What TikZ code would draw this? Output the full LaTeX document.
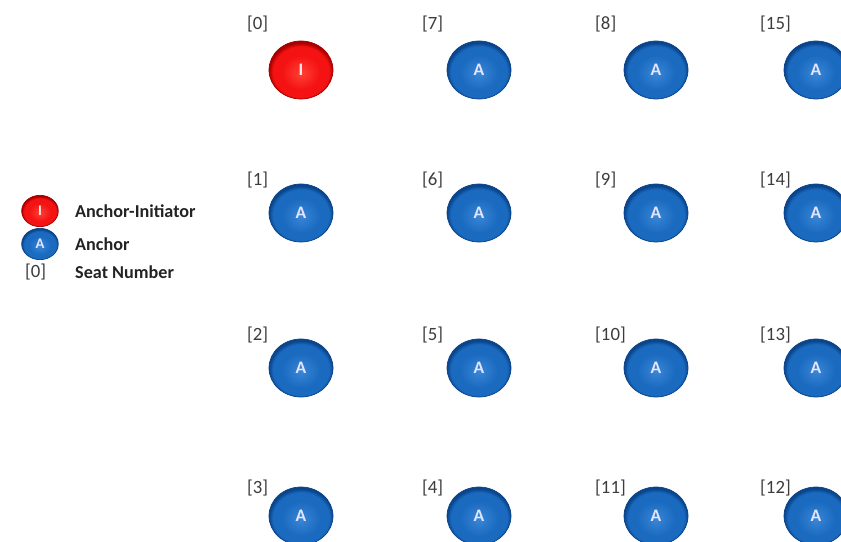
\documentclass[tikz,border=0pt]{standalone}
\usepackage{fontspec}
\setmainfont{Carlito}
\usepackage{tikz}
\usetikzlibrary{shapes.geometric}

\definecolor{anchorblue}{RGB}{26,106,192}
\definecolor{anchorlight}{RGB}{56,134,214}
\definecolor{anchorrim}{RGB}{10,68,138}
\definecolor{initred}{RGB}{244,18,18}
\definecolor{initlight}{RGB}{255,64,54}
\definecolor{initrim}{RGB}{168,0,0}
\definecolor{seatgray}{RGB}{60,60,60}
\definecolor{keyblack}{RGB}{35,35,35}

% glossy buttons: flat body, darker rim
\pgfdeclareradialshading{blueknob}{\pgfpoint{0bp}{-3bp}}{%
  color(0bp)=(anchorlight); color(15bp)=(anchorblue); color(22bp)=(anchorblue);
  color(25bp)=(anchorrim); color(50bp)=(anchorrim)}
\pgfdeclareradialshading{redknob}{\pgfpoint{0bp}{-3bp}}{%
  color(0bp)=(initlight); color(15bp)=(initred); color(22bp)=(initred);
  color(25bp)=(initrim); color(50bp)=(initrim)}

\begin{document}
\begin{tikzpicture}[x=0.03cm,y=-0.03cm]
\useasboundingbox (0,0) rectangle (841,542);

\tikzset{blueseat/.style = {shape=ellipse,draw=anchorrim,line width=.6pt,shade,shading=blueknob,
  minimum width=1.92cm,minimum height=1.74cm,inner sep=0pt,text=white!90!blue,font=\fontsize{15}{17}\selectfont\bfseries}}
\tikzset{redseat/.style = {blueseat,draw=initrim,shading=redknob,text=white!90!red}}
\tikzset{keyseat/.style = {minimum width=1.1cm,minimum height=0.94cm,font=\fontsize{12.5}{14}\selectfont\bfseries}}
\tikzset{seatno/.style = {anchor=west,inner sep=0pt,text=seatgray,font=\fontsize{16}{19}\selectfont}}
\tikzset{keytext/.style = {anchor=west,inner sep=0pt,text=keyblack,font=\fontsize{15.5}{18}\selectfont\bfseries}}

% seats
\node[redseat] (s0) at (301,70) {I};
\node[blueseat] (s1) at (301,213) {A};
\node[blueseat] (s2) at (301,368) {A};
\node[blueseat] (s3) at (301,516) {A};

\node[blueseat] (s7) at (479,70) {A};
\node[blueseat] (s6) at (479,213) {A};
\node[blueseat] (s5) at (479,368) {A};
\node[blueseat] (s4) at (479,516) {A};

\node[blueseat] (s8) at (656,70) {A};
\node[blueseat] (s9) at (656,213) {A};
\node[blueseat] (s10) at (656,368) {A};
\node[blueseat] (s11) at (656,516) {A};

\node[blueseat] (s15) at (816,70) {A};
\node[blueseat] (s14) at (816,213) {A};
\node[blueseat] (s13) at (816,368) {A};
\node[blueseat] (s12) at (816,516) {A};

% seat numbers
\node[seatno] (n0) at (247,24) {[0]};
\node[seatno] (n1) at (247,180) {[1]};
\node[seatno] (n2) at (247,335) {[2]};
\node[seatno] (n3) at (247,488) {[3]};

\node[seatno] (n7) at (422,24) {[7]};
\node[seatno] (n6) at (422,180) {[6]};
\node[seatno] (n5) at (422,335) {[5]};
\node[seatno] (n4) at (422,488) {[4]};

\node[seatno] (n8) at (595,24) {[8]};
\node[seatno] (n9) at (595,180) {[9]};
\node[seatno] (n10) at (595,335) {[10]};
\node[seatno] (n11) at (595,488) {[11]};

\node[seatno] (n15) at (760,24) {[15]};
\node[seatno] (n14) at (760,180) {[14]};
\node[seatno] (n13) at (760,335) {[13]};
\node[seatno] (n12) at (760,488) {[12]};

% key
\node[redseat,keyseat] (kinit) at (40,211) {I};
\node[keytext] (tinit) at (75,211) {Anchor-Initiator};
\node[blueseat,keyseat] (kanchor) at (40,244) {A};
\node[keytext] (tanchor) at (75,244) {Anchor};
\node[seatno] (kno) at (25,272) {[0]};
\node[keytext] (tno) at (75,272) {Seat Number};

\end{tikzpicture}
\end{document}
